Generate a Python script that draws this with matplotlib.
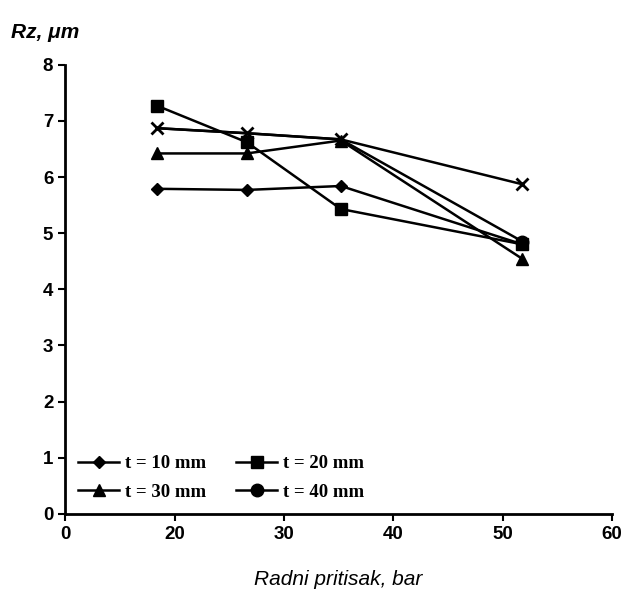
import matplotlib
matplotlib.use("Agg")
import matplotlib.pyplot as plt

pressure = [18.4, 26.6, 35.2, 51.8]
t10 = [5.79, 5.77, 5.84, 4.80]
t20 = [7.27, 6.62, 5.43, 4.80]
t30 = [6.42, 6.42, 6.65, 4.54]
t40 = [6.87, 6.78, 6.67, 4.85]
extra = [6.87, 6.78, 6.67, 5.87]
labels = ["t = 10 mm", "t = 20 mm", "t = 30 mm", "t = 40 mm"]
xtick_pos = [10, 20, 30, 40, 50, 60]
xtick_labels = ["0", "20", "30", "40", "50", "60"]
yticks = [0, 1, 2, 3, 4, 5, 6, 7, 8]

fig = plt.figure(figsize=(6.26, 5.94), dpi=100)
ax = fig.add_axes([0.104, 0.135, 0.874, 0.756])

lw = 1.8
ax.plot(pressure, extra, color="black", lw=lw, marker="x", ms=8, mew=2)
h1, = ax.plot(pressure, t10, color="black", lw=lw, marker="D", ms=6.5)
h2, = ax.plot(pressure, t20, color="black", lw=lw, marker="s", ms=8)
h3, = ax.plot(pressure, t30, color="black", lw=lw, marker="^", ms=8)
h4, = ax.plot(pressure, t40, color="black", lw=lw, marker="o", ms=9, markevery=[3])

# matplotlib fills legend column-first; reorder to get row-major layout
handles = [h1, h3, h2, h4]
leg_labels = [labels[0], labels[2], labels[1], labels[3]]
leg = ax.legend(handles, leg_labels, ncol=2, loc="lower left",
                bbox_to_anchor=(0.0, 0.0), frameon=False,
                prop={"family": "Liberation Serif", "size": 13.5, "weight": "bold"},
                handlelength=2.2, handletextpad=0.3, columnspacing=1.6,
                labelspacing=0.6, borderaxespad=0.3)

ax.set_xlim(10, 60)
ax.set_ylim(0, 8)
ax.set_xticks(xtick_pos)
ax.set_xticklabels(xtick_labels)
ax.set_yticks(yticks)
for s in ["top", "right"]:
    ax.spines[s].set_visible(False)
for s in ["left", "bottom"]:
    ax.spines[s].set_linewidth(2)
ax.tick_params(axis="both", width=1.5, length=5, labelsize=13.5, direction="out")
for lab in ax.get_xticklabels() + ax.get_yticklabels():
    lab.set_fontfamily("Liberation Sans")
    lab.set_fontweight("bold")

fig.text(0.018, 0.945, "Rz, μm", fontsize=15, style="italic", weight="bold",
         family="Liberation Sans", ha="left", va="center")
ax.set_xlabel("Radni pritisak, bar", fontsize=15, style="italic",
              family="Liberation Sans", labelpad=20)

fig.savefig("out.png", dpi=100)
